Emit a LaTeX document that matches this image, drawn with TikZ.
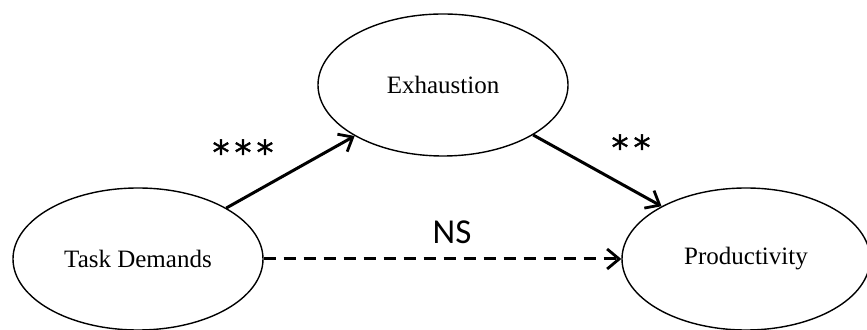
\documentclass[tikz,border=0pt]{standalone}
\usepackage{fontspec}
\setmainfont{Liberation Serif}
\newfontfamily\labelfont{Carlito}
\newfontfamily\starfont[FakeBold=1.2]{DejaVu Sans}
\usetikzlibrary{arrows.meta,shapes.geometric}
\begin{document}
\begin{tikzpicture}[x=0.5pt,y=-0.5pt,
  construct/.style={draw, ellipse, line width=0.7pt, minimum width=125pt,
    minimum height=71pt, inner sep=0pt, font=\fontsize{12.5}{15}\selectfont},
  path/.style={line width=1.5pt, -{Straight Barb[length=6pt,width=10pt,line width=1.4pt]}},
  nspath/.style={path, dash pattern=on 6pt off 4pt},
  sig/.style={font=\labelfont\fontsize{17.5}{20}\selectfont, inner sep=0pt},
  stars/.style={font=\starfont\fontsize{17}{20}\selectfont, inner sep=0pt}]
  \useasboundingbox (0,0) rectangle (867,330);
  % constructs
  \node[construct] (td) at (138,259) {Task Demands};
  \node[construct] (ex) at (443,85) {Exhaustion};
  \node[construct, minimum width=124pt] (pr) at (746,259) {Productivity};
  % paths
  \draw[path] (td.30) -- (ex.210);
  \draw[path] (ex.331) -- (pr.148);
  \draw[nspath] (td.east) -- (pr.west);
  % significance labels
  \node[stars] (s1) at (243,152) {*\kern2.5pt*\kern2.5pt*};
  \node[stars] (s2) at (631,147) {*\kern2.5pt*};
  \node[sig] (s3) at (452,232) {NS};
\end{tikzpicture}
\end{document}
